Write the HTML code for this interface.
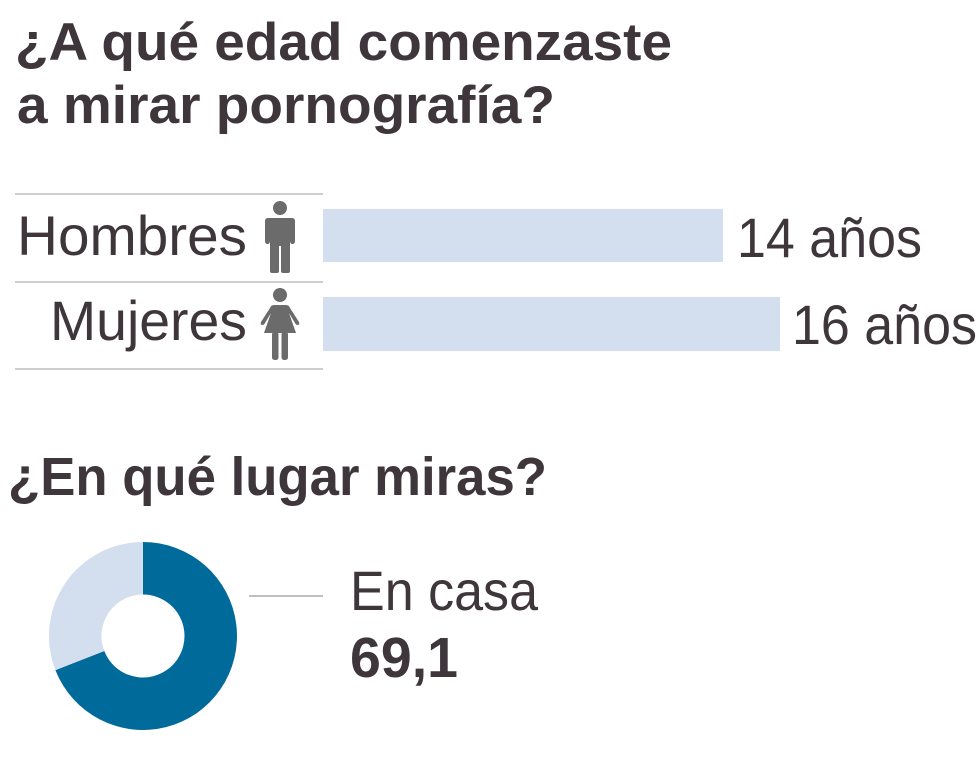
<!DOCTYPE html>
<html><head><meta charset="utf-8"><style>
html,body{margin:0;padding:0;background:#fff;}
svg{display:block;}
</style></head><body>
<svg width="980" height="779" viewBox="0 0 980 779" xmlns="http://www.w3.org/2000/svg">
<g font-family="Liberation Sans, Arial, sans-serif" fill="#3e363b">
<text x="15" y="60" font-size="53" font-weight="bold" textLength="657" lengthAdjust="spacingAndGlyphs">¿A qué edad comenzaste</text>
<text x="17" y="123" font-size="53" font-weight="bold" textLength="538" lengthAdjust="spacingAndGlyphs">a mirar pornografía?</text>
<text x="8" y="495" font-size="54" font-weight="bold" textLength="539" lengthAdjust="spacingAndGlyphs">¿En qué lugar miras?</text>
<text x="17" y="255" font-size="56" textLength="230" lengthAdjust="spacingAndGlyphs">Hombres</text>
<text x="50" y="340" font-size="56" textLength="197" lengthAdjust="spacingAndGlyphs">Mujeres</text>
<text x="737" y="257" font-size="56" textLength="185" lengthAdjust="spacingAndGlyphs">14 años</text>
<text x="792" y="344" font-size="56" textLength="185" lengthAdjust="spacingAndGlyphs">16 años</text>
<text x="350" y="610" font-size="56" textLength="188" lengthAdjust="spacingAndGlyphs">En casa</text>
<text x="350" y="677" font-size="57" font-weight="bold" textLength="108" lengthAdjust="spacingAndGlyphs">69,1</text>
</g>
<g stroke="#bdbdbd" stroke-width="1.5">
<line x1="15" y1="194" x2="323" y2="194"/>
<line x1="15" y1="282" x2="323" y2="282"/>
<line x1="15" y1="369" x2="323" y2="369"/>
</g>
<line x1="249" y1="596" x2="323" y2="596" stroke="#aaaaaa" stroke-width="1.5"/>
<rect x="323" y="209" width="400" height="53" fill="#d3dfee"/>
<rect x="323" y="297" width="457" height="54" fill="#d3dfee"/>
<!-- man icon -->
<g fill="#6b6b6b">
<circle cx="280" cy="208" r="7"/>
<path d="M268,218 L292,218 Q295,218 295,221 L295,241 Q295,244 292.5,244 Q290,244 290,241 L290,271 Q290,273 288,273 L283,273 Q281,273 281,271 L281,246 L279,246 L279,271 Q279,273 277,273 L272,273 Q270,273 270,271 L270,241 Q270,244 267.5,244 Q265,244 265,241 L265,221 Q265,218 268,218 Z"/>
</g>
<!-- woman icon -->
<g fill="#6b6b6b">
<circle cx="280" cy="295" r="7"/>
<path d="M274,305 L286,305 Q289,305 290,308 L299,322 Q300,325 297.5,325 Q296,325 295,323 L289,313 L296,333 L264,333 L271,313 L265,323 Q264,325 262.5,325 Q260,325 261,322 L270,308 Q271,305 274,305 Z"/>
<rect x="272" y="332" width="6.5" height="28" rx="2.5"/>
<rect x="281.5" y="332" width="6.5" height="28" rx="2.5"/>
</g>
<!-- donut -->
<path d="M143,542 A94,94 0 1 1 55.4,670.1 L104.3,651.0 A41.5,41.5 0 1 0 143,594.5 Z" fill="#006a9b"/>
<path d="M55.4,670.1 A94,94 0 0 1 143,542 L143,594.5 A41.5,41.5 0 0 0 104.3,651.0 Z" fill="#d3dfee"/>
</svg>
</body></html>
